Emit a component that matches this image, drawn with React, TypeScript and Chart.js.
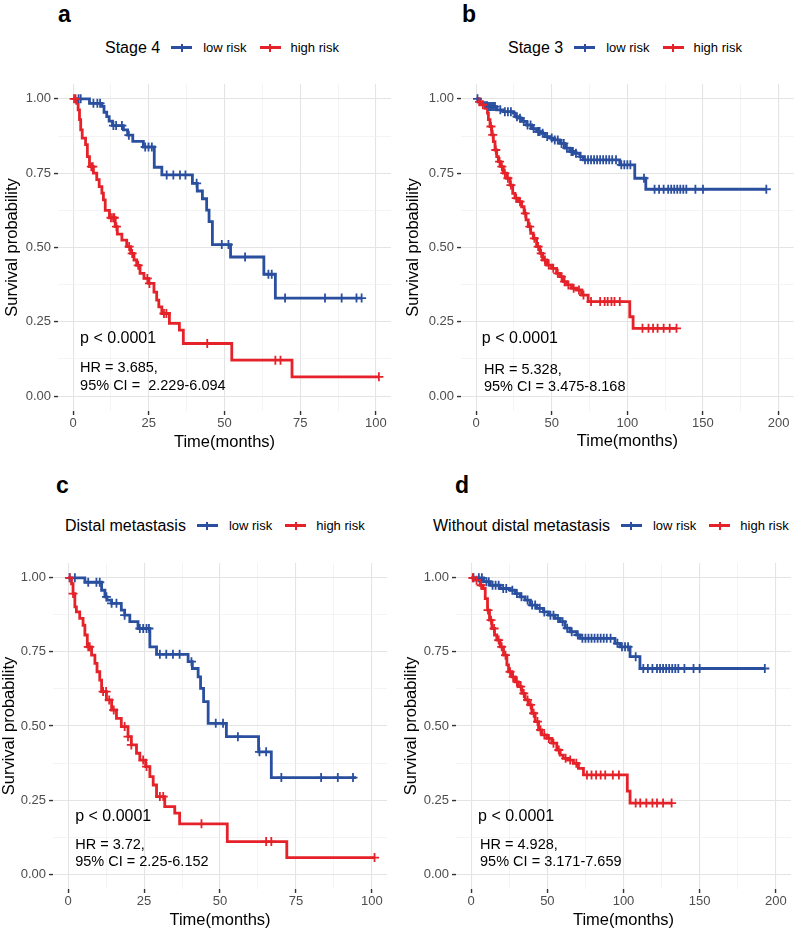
import React, { useEffect, useRef } from 'react';
import { Chart, registerables } from 'chart.js';

Chart.register(...registerables);

const FONT = '"Liberation Sans", Arial, Helvetica, sans-serif';
const BLUE = '#2A4F9F';
const RED = '#E52229';

// ---------- Panel a : Stage 4 ----------
const aLowTime = [0, 5.4, 9.5, 10.2, 11.1, 11.9, 13.0, 16.6, 18.0, 19.7, 23.2, 26.8, 29.3, 39.4, 41.0, 42.7, 44.1, 44.9, 46.0, 52.0, 63.0, 66.8, 95.3];
const aLowSurv = [1, 0.985, 0.975, 0.955, 0.94, 0.925, 0.91, 0.896, 0.878, 0.857, 0.838, 0.77, 0.744, 0.716, 0.69, 0.664, 0.626, 0.587, 0.51, 0.468, 0.41, 0.33, 0.33];
const aLowCensor = [1.8, 2.5, 6.7, 8.0, 8.9, 13.3, 14.2, 16.1, 18.4, 23.8, 24.9, 26.0, 30.9, 33.1, 35.3, 37.1, 40.8, 49.1, 51.3, 56.8, 64.5, 65.6, 70.0, 83.2, 88.7, 93.6, 95.3];
const aHighTime = [0, 1.2, 1.65, 2.1, 2.5, 3.0, 4.1, 4.7, 5.4, 6.7, 7.8, 8.6, 9.5, 10.0, 10.6, 12.0, 13.9, 14.6, 16.1, 17.7, 19.0, 20.1, 21.0, 22.1, 23.4, 24.9, 26.7, 27.6, 28.3, 29.3, 31.8, 35.1, 36.4, 52.4, 72.3, 101.0];
const aHighSurv = [1, 0.985, 0.963, 0.93, 0.896, 0.868, 0.846, 0.806, 0.772, 0.75, 0.728, 0.705, 0.683, 0.66, 0.625, 0.6, 0.57, 0.545, 0.525, 0.503, 0.48, 0.458, 0.44, 0.413, 0.396, 0.379, 0.35, 0.323, 0.3, 0.278, 0.245, 0.222, 0.177, 0.121, 0.065, 0.065];
const aHighCensor = [0.3, 0.8, 6.0, 6.5, 12.5, 13.2, 13.6, 14.3, 18.5, 19.5, 21.5, 24.5, 25.2, 30.0, 30.8, 44.3, 66.8, 68.5, 101.0];

// ---------- Panel b : Stage 3 ----------
const bLowTime = [0, 2.6, 7.0, 8.1, 13.6, 18.0, 24.6, 25.7, 27.9, 30.1, 33.4, 36.7, 40.0, 43.3, 45.5, 48.8, 51.0, 55.4, 58.7, 62.0, 65.3, 68.6, 70.8, 95.0, 104.9, 112.2, 191.9];
const bLowSurv = [1, 0.987, 0.98, 0.974, 0.963, 0.957, 0.952, 0.94, 0.935, 0.924, 0.912, 0.9, 0.89, 0.884, 0.873, 0.868, 0.862, 0.85, 0.834, 0.823, 0.817, 0.806, 0.795, 0.778, 0.733, 0.696, 0.696];
const bLowCensor = [0.9, 8.5, 9.5, 10.5, 11.5, 12.5, 16, 19, 21, 23, 27, 29, 31.5, 34, 36, 38, 41, 42, 44, 47, 50, 52, 54, 56.5, 58, 60, 63, 64, 66, 69, 72, 74, 76, 78, 80, 82, 84, 86, 88, 90, 92.5, 96, 98, 100, 102, 111, 118, 121, 124, 127, 129, 131, 133, 135, 137, 139, 145, 150, 191.9];
const bHighTime = [0, 1.5, 3.7, 5.9, 7.5, 8.1, 9.2, 10.3, 11.4, 12.5, 13.6, 14.7, 16.3, 18.0, 20.2, 22.4, 24.2, 25.7, 27.9, 30.1, 31.7, 33.0, 34.5, 36.1, 37.8, 40.0, 42.2, 44.0, 46.6, 49.9, 53.2, 55.4, 57.6, 59.8, 63.1, 66.4, 69.7, 74.1, 101.6, 103.8, 132.5];
const bHighSurv = [1, 0.99, 0.98, 0.968, 0.952, 0.93, 0.907, 0.879, 0.856, 0.828, 0.806, 0.789, 0.772, 0.75, 0.733, 0.71, 0.682, 0.666, 0.654, 0.637, 0.615, 0.593, 0.57, 0.548, 0.531, 0.503, 0.48, 0.458, 0.441, 0.43, 0.413, 0.402, 0.385, 0.374, 0.363, 0.357, 0.34, 0.318, 0.267, 0.228, 0.228];
const bHighCensor = [2.2, 4.5, 9.8, 11.0, 13.0, 15.5, 17.0, 19.0, 21.0, 23.0, 26.5, 29.0, 32.5, 35.5, 38.5, 41.0, 43.0, 45.5, 48.0, 51.0, 54.0, 56.5, 58.5, 61.0, 64.5, 68.0, 71.0, 76.0, 82.0, 85.0, 87.0, 89.5, 91.5, 95.0, 110.0, 114.0, 117.0, 120.0, 124.0, 128.0, 132.5];

// ---------- Panel c : Distal metastasis ----------
const cLowTime = [0, 5.5, 11.0, 12.1, 12.8, 14.3, 17.5, 18.6, 20.3, 23.0, 26.9, 29.1, 39.5, 40.9, 42.8, 43.6, 44.6, 46.1, 52.1, 62.7, 66.9, 94.8];
const cLowSurv = [1, 0.985, 0.958, 0.936, 0.925, 0.914, 0.891, 0.874, 0.852, 0.829, 0.767, 0.742, 0.717, 0.694, 0.666, 0.627, 0.582, 0.509, 0.464, 0.413, 0.326, 0.326];
const cLowCensor = [0.5, 2.2, 6.6, 9.3, 10.4, 12.6, 14.3, 15.9, 18.6, 23.6, 24.7, 25.8, 26.6, 30.2, 32.3, 34.5, 36.7, 40.6, 48.6, 51.0, 55.9, 63.0, 65.2, 70.2, 83.3, 88.8, 93.8];
const cHighTime = [0, 1.1, 1.6, 2.2, 2.7, 3.8, 4.9, 5.5, 6.3, 7.7, 8.8, 9.5, 10.4, 11.0, 12.6, 14.3, 15.9, 17.5, 19.7, 20.8, 22.5, 23.6, 25.5, 26.9, 28.0, 29.1, 31.8, 35.1, 36.7, 52.4, 72.0, 100.9];
const cHighSurv = [1, 0.98, 0.947, 0.902, 0.885, 0.863, 0.84, 0.807, 0.767, 0.739, 0.711, 0.683, 0.655, 0.616, 0.588, 0.554, 0.526, 0.498, 0.464, 0.436, 0.408, 0.385, 0.363, 0.329, 0.301, 0.262, 0.228, 0.206, 0.17, 0.11, 0.056, 0.056];
const cHighCensor = [0.5, 1.6, 6.6, 7.1, 11.5, 12.5, 13.5, 15.0, 18.6, 19.7, 20.8, 24.7, 25.8, 30.2, 31.3, 43.9, 65.2, 66.9, 100.9];

// ---------- Panel d : Without distal metastasis ----------
const dLowTime = [0, 8.1, 12.5, 19.0, 25.6, 28.9, 32.1, 35.4, 38.7, 43.1, 47.4, 50.7, 55.1, 58.4, 61.6, 64.9, 69.3, 71.5, 94.4, 97.7, 104.3, 110.8, 192.8];
const dLowSurv = [1, 0.987, 0.975, 0.964, 0.958, 0.947, 0.936, 0.925, 0.908, 0.897, 0.885, 0.874, 0.863, 0.852, 0.83, 0.818, 0.807, 0.796, 0.779, 0.767, 0.734, 0.694, 0.694];
const dLowCensor = [1.5, 5, 7, 10, 11.5, 14, 16, 18, 21, 23, 27, 30, 33, 37, 40, 42, 45, 48, 52, 54, 57, 60, 63, 66, 70, 73, 75, 77, 79, 81, 83, 85, 87, 89, 91.5, 96, 99, 101, 103, 108, 113, 116, 119, 122, 124, 126, 128, 130, 132, 134, 136, 140, 146, 150, 192.8];
const dHighTime = [0, 2.6, 5.9, 7.7, 9.2, 10.7, 12.0, 13.6, 15.3, 16.8, 19.0, 21.2, 23.4, 24.5, 26.7, 28.9, 31.0, 33.2, 35.4, 37.6, 39.8, 42.0, 44.2, 46.3, 49.6, 52.9, 56.2, 58.4, 60.5, 63.8, 67.1, 70.4, 73.7, 102.5, 104.3, 131.6];
const dHighSurv = [1, 0.992, 0.975, 0.964, 0.93, 0.891, 0.857, 0.829, 0.807, 0.79, 0.767, 0.739, 0.706, 0.683, 0.666, 0.649, 0.633, 0.61, 0.588, 0.571, 0.543, 0.515, 0.487, 0.47, 0.458, 0.442, 0.419, 0.402, 0.391, 0.385, 0.374, 0.357, 0.335, 0.28, 0.24, 0.24];
const dHighCensor = [1.0, 3.5, 6.5, 11.0, 13.0, 15.0, 18.0, 20.0, 22.5, 25.5, 27.5, 30.0, 32.5, 34.5, 37.0, 39.0, 41.0, 43.5, 45.5, 48.0, 51.0, 54.0, 57.5, 62.0, 65.0, 69.0, 76.0, 79.0, 82.0, 85.0, 88.0, 93.0, 97.0, 108.0, 111.0, 115.0, 119.0, 122.0, 126.0, 131.6];

// ---------- Labels ----------
const groupLabels = ['low risk', 'high risk'];
const panelLetters = ['a', 'b', 'c', 'd'];
const panelTitles = ['Stage 4', 'Stage 3', 'Distal metastasis', 'Without distal metastasis'];
const pTexts = ['p < 0.0001', 'p < 0.0001', 'p < 0.0001', 'p < 0.0001'];
const hrTexts = ['HR = 3.685,', 'HR = 5.328,', 'HR = 3.72,', 'HR = 4.928,'];
const ciTexts = ['95% CI =  2.229-6.094', '95% CI = 3.475-8.168', '95% CI = 2.25-6.152', '95% CI = 3.171-7.659'];
const shortTicks = [0, 25, 50, 75, 100];
const longTicks = [0, 50, 100, 150, 200];
const yTicks = [0, 0.25, 0.5, 0.75, 1];
const xTitle = 'Time(months)';
const yTitle = 'Survival probability';

const curves = [
  { lowT: aLowTime, lowS: aLowSurv, lowC: aLowCensor, highT: aHighTime, highS: aHighSurv, highC: aHighCensor, ticks: shortTicks },
  { lowT: bLowTime, lowS: bLowSurv, lowC: bLowCensor, highT: bHighTime, highS: bHighSurv, highC: bHighCensor, ticks: longTicks },
  { lowT: cLowTime, lowS: cLowSurv, lowC: cLowCensor, highT: cHighTime, highS: cHighSurv, highC: cHighCensor, ticks: shortTicks },
  { lowT: dLowTime, lowS: dLowSurv, lowC: dLowCensor, highT: dHighTime, highS: dHighSurv, highC: dHighCensor, ticks: longTicks },
];

// layout (page pixels) for each panel
const layouts = [
  { left: 0, top: 70, padTop: 14, padRight: 9, yWidth: 58, xHeight: 49, yTitlePad: 3, xTitlePad: 7.4, letterLeft: 58, letterTop: 2.5, legendLeft: 105, legendTop: 37.5, noteX: 2.3, pY: 0.195, hrX: 2.3, hrY: 0.094, ciY: 0.034 },
  { left: 400, top: 70, padTop: 14, padRight: 6, yWidth: 61, xHeight: 49, yTitlePad: 4, xTitlePad: 8.4, letterLeft: 462, letterTop: 3.2, legendLeft: 508, legendTop: 37.5, noteX: 3.8, pY: 0.195, hrX: 5.2, hrY: 0.088, ciY: 0.03 },
  { left: 0, top: 540, padTop: 23, padRight: 13, yWidth: 53, xHeight: 41, yTitlePad: 0, xTitlePad: 0, letterLeft: 56, letterTop: 473.5, legendLeft: 65, legendTop: 515.5, noteX: 2.3, pY: 0.196, hrX: 2.3, hrY: 0.1, ciY: 0.04 },
  { left: 400, top: 540, padTop: 23, padRight: 9, yWidth: 56, xHeight: 41, yTitlePad: 1.5, xTitlePad: 0, letterLeft: 455, letterTop: 473.5, legendLeft: 433, legendTop: 515.5, noteX: 4.5, pY: 0.196, hrX: 5.8, hrY: 0.1, ciY: 0.04 },
];

function survAt(times: number[], survs: number[], t: number) {
  let s = survs[0];
  for (let i = 0; i < times.length; i++) {
    if (times[i] <= t + 1e-9) s = survs[i];
  }
  return s;
}

function withMinor(majors: number[]) {
  const out: number[] = [];
  for (let i = 0; i < majors.length; i++) {
    out.push(majors[i]);
    if (i < majors.length - 1) out.push((majors[i] + majors[i + 1]) / 2);
  }
  return out;
}

const isMajorOf = (majors: number[]) => (v: number) => majors.some((m) => Math.abs(m - v) < 1e-9);

function buildConfig(idx: number): any {
  const c = curves[idx];
  const L = layouts[idx];
  const xMajors = c.ticks;
  const xMax = xMajors[xMajors.length - 1];
  const xPad = xMax * 0.05;
  const xAll = withMinor(xMajors);
  const yAll = withMinor(yTicks);
  const xIsMajor = isMajorOf(xMajors);
  const yIsMajor = isMajorOf(yTicks);

  const lineData = (T: number[], S: number[]) => T.map((t, i) => ({ x: t, y: S[i] }));
  const censData = (C: number[], T: number[], S: number[]) => C.map((t) => ({ x: t, y: survAt(T, S, t) }));

  const notes = {
    id: 'kmNotes' + idx,
    afterDatasetsDraw(chart: any) {
      const { ctx } = chart;
      const xs = chart.scales.x;
      const ys = chart.scales.y;
      ctx.save();
      ctx.fillStyle = '#000000';
      ctx.textAlign = 'left';
      ctx.textBaseline = 'middle';
      ctx.font = `16px ${FONT}`;
      ctx.fillText(pTexts[idx], xs.getPixelForValue(L.noteX), ys.getPixelForValue(L.pY));
      ctx.font = `14.5px ${FONT}`;
      ctx.fillText(hrTexts[idx], xs.getPixelForValue(L.hrX), ys.getPixelForValue(L.hrY));
      ctx.fillText(ciTexts[idx], xs.getPixelForValue(L.hrX), ys.getPixelForValue(L.ciY));
      ctx.restore();
    },
  };

  const gridFor = (isMajor: (v: number) => boolean) => ({
    display: true,
    drawTicks: true,
    tickLength: 4,
    color: (ctx: any) => (ctx.tick && isMajor(ctx.tick.value) ? '#E4E4E4' : '#EFEFEF'),
    lineWidth: (ctx: any) => (ctx.tick && isMajor(ctx.tick.value) ? 1.1 : 0.7),
    tickColor: (ctx: any) => (ctx.tick && isMajor(ctx.tick.value) ? '#333333' : 'rgba(0,0,0,0)'),
    tickWidth: (ctx: any) => (ctx.tick && isMajor(ctx.tick.value) ? 1.4 : 0),
  });

  const censStyle = (color: string) => ({
    showLine: false,
    pointStyle: 'cross',
    pointRadius: 4.5,
    pointBorderWidth: 1.8,
    pointBorderColor: color,
    borderColor: color,
    backgroundColor: color,
  });

  return {
    type: 'line',
    data: {
      datasets: [
        { label: groupLabels[1] + ' censored', data: censData(c.highC, c.highT, c.highS), ...censStyle(RED), order: 0 },
        { label: groupLabels[0] + ' censored', data: censData(c.lowC, c.lowT, c.lowS), ...censStyle(BLUE), order: 1 },
        {
          label: groupLabels[1],
          data: lineData(c.highT, c.highS),
          stepped: 'before',
          borderColor: RED,
          borderWidth: 2.8,
          pointRadius: 0,
          fill: false,
          order: 2,
        },
        {
          label: groupLabels[0],
          data: lineData(c.lowT, c.lowS),
          stepped: 'before',
          borderColor: BLUE,
          borderWidth: 2.8,
          pointRadius: 0,
          fill: false,
          order: 3,
        },
      ],
    },
    options: {
      animation: false,
      responsive: true,
      maintainAspectRatio: false,
      events: [],
      layout: { padding: { left: 0, right: L.padRight, top: L.padTop, bottom: 0 } },
      plugins: { legend: { display: false }, tooltip: { enabled: false }, title: { display: false } },
      scales: {
        x: {
          type: 'linear',
          min: -xPad,
          max: xMax + xPad,
          afterBuildTicks: (s: any) => {
            s.ticks = xAll.map((v) => ({ value: v }));
          },
          afterFit: (s: any) => {
            s.height = L.xHeight;
          },
          ticks: {
            autoSkip: false,
            maxRotation: 0,
            minRotation: 0,
            padding: 1,
            color: '#4D4D4D',
            font: { family: FONT, size: 13 },
            callback: (v: any) => (xIsMajor(Number(v)) ? String(v) : ''),
          },
          grid: gridFor(xIsMajor),
          border: { display: false },
          title: {
            display: true,
            text: xTitle,
            color: '#000000',
            font: { family: FONT, size: 16.5 },
            padding: { top: 0, bottom: L.xTitlePad },
          },
        },
        y: {
          type: 'linear',
          min: -0.05,
          max: 1.05,
          afterBuildTicks: (s: any) => {
            s.ticks = yAll.map((v) => ({ value: v }));
          },
          afterFit: (s: any) => {
            s.width = L.yWidth;
          },
          ticks: {
            autoSkip: false,
            padding: 3,
            color: '#4D4D4D',
            font: { family: FONT, size: 13 },
            callback: (v: any) => (yIsMajor(Number(v)) ? Number(v).toFixed(2) : ''),
          },
          grid: gridFor(yIsMajor),
          border: { display: false },
          title: {
            display: true,
            text: yTitle,
            color: '#000000',
            font: { family: FONT, size: 16.5 },
            padding: { top: L.yTitlePad, bottom: 0 },
          },
        },
      },
    },
    plugins: [notes],
  };
}

function LegendKey({ color }: { color: string }) {
  return (
    <span style={{ position: 'relative', display: 'inline-block', width: 21, height: 10, flex: '0 0 auto' }}>
      <span style={{ position: 'absolute', left: 0, top: 3.5, width: 21, height: 3, background: color }} />
      <span style={{ position: 'absolute', left: 9.5, top: 1, width: 2, height: 8, background: color }} />
    </span>
  );
}

function KMPanel({ idx }: { idx: number }) {
  const ref = useRef<HTMLCanvasElement | null>(null);
  useEffect(() => {
    if (!ref.current) return;
    const chart = new Chart(ref.current, buildConfig(idx));
    return () => chart.destroy();
  }, [idx]);
  const L = layouts[idx];
  return (
    <>
      <div
        style={{
          position: 'absolute',
          left: L.letterLeft,
          top: L.letterTop,
          fontFamily: FONT,
          fontWeight: 'bold',
          fontSize: 23,
          lineHeight: 1,
          color: '#000',
        }}
      >
        {panelLetters[idx]}
      </div>
      <div
        style={{
          position: 'absolute',
          left: L.legendLeft,
          top: L.legendTop,
          height: 20,
          display: 'flex',
          alignItems: 'center',
          whiteSpace: 'nowrap',
          fontFamily: FONT,
          color: '#000',
        }}
      >
        <span style={{ fontSize: 16, lineHeight: 1, marginRight: 11 }}>{panelTitles[idx]}</span>
        <LegendKey color={BLUE} />
        <span style={{ fontSize: 13, lineHeight: 1, marginLeft: 11, marginRight: 13 }}>{groupLabels[0]}</span>
        <LegendKey color={RED} />
        <span style={{ fontSize: 13, lineHeight: 1, marginLeft: 10 }}>{groupLabels[1]}</span>
      </div>
      <div style={{ position: 'absolute', left: L.left, top: L.top, width: 400, height: 390 }}>
        <canvas ref={ref} />
      </div>
    </>
  );
}

export default function App() {
  return (
    <div style={{ position: 'absolute', left: 0, top: 0, width: 800, height: 930, background: '#ffffff', overflow: 'hidden' }}>
      {[0, 1, 2, 3].map((i) => (
        <KMPanel key={i} idx={i} />
      ))}
    </div>
  );
}
